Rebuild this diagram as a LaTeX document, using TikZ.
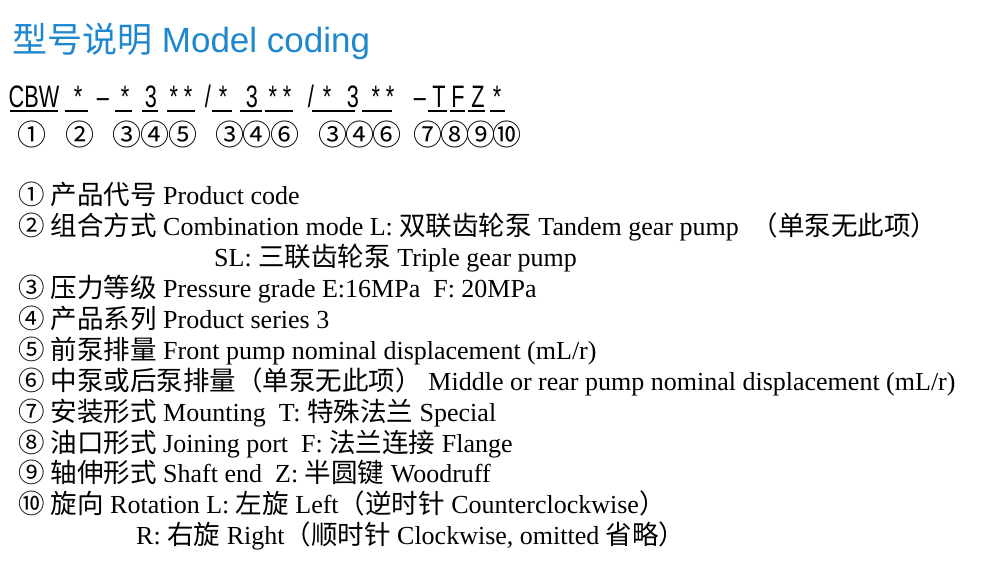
\documentclass[tikz,border=0pt]{standalone}
\usepackage{fontspec}
\setmainfont{Liberation Serif}
\newfontfamily\cjk{Noto Sans CJK SC}[Scale=1.02]
\newfontfamily\cjkc{Noto Sans CJK SC}
\newfontfamily\codefont{Liberation Sans}
\definecolor{titleblue}{RGB}{30,135,205}
\begin{document}
\begin{tikzpicture}[x=1pt,y=-1pt,
  code/.style={anchor=base,inner sep=0,font=\codefont\fontsize{31}{31}\selectfont,xscale=0.7},
  circ/.style={anchor=center,inner sep=0,font=\cjkc\fontsize{29}{29}\selectfont},
  ul/.style={line width=1.2pt},
  row/.style={anchor=base west,inner sep=0,font=\fontsize{26}{26}\selectfont}]
\useasboundingbox (0,0) rectangle (986,584);
\node[anchor=base west,inner sep=0,text=titleblue,font=\codefont\fontsize{35}{35}\selectfont] (title) at (12,52) {{\cjkc 型号说明} Model coding};
% code line
\foreach \t/\x/\a/\b [count=\i] in {CBW/34/10/58, {*}/78/65/88, {*}/125/115/132, 3/151/142/158, {* *}/181/167/195, {*}/223/212/232, 3/252/240/262, {* *}/280/265/293, {*}/327/312/340, 3/353/338/355, {* *}/383/362/392, T/439/428/447, F/458/450/465, Z/478/468/485, {*}/497/490/505}{
  \node[code] (c\i) at (\x,107) {\t};
  \draw[ul] (\a,111) -- (\b,111);
}
\node[code] (d1) at (103,107) {\textendash};
\node[code] (s1) at (208,107) {/};
\node[code] (s2) at (311,107) {/};
\node[code] (d2) at (420,107) {\textendash};
\foreach \t/\x [count=\i] in {①/32,②/80,③/127,④/155,⑤/183,③/230,④/257,⑥/285,③/333,④/360,⑥/387,⑦/428,⑧/455,⑨/481,⑩/507}{
  \node[circ] (n\i) at (\x,134) {\t};
}
% description lines
\node[row] (r1) at (18,204) {{\cjk ① 产品代号} Product code};
\node[row] (r2) at (18,235) {{\cjk ② 组合方式} Combination mode L: {\cjk 双联齿轮泵} Tandem gear pump \ {\cjk （单泵无此项）}};
\node[row] (r2b) at (214,266) {SL: {\cjk 三联齿轮泵} Triple gear pump};
\node[row] (r3) at (18,297) {{\cjk ③ 压力等级} Pressure grade E:16MPa\ \ F: 20MPa};
\node[row] (r4) at (18,328) {{\cjk ④ 产品系列} Product series 3};
\node[row] (r5) at (18,359) {{\cjk ⑤ 前泵排量} Front pump nominal displacement (mL/r)};
\node[row] (r6) at (18,390) {{\cjk ⑥ 中泵或后泵排量（单泵无此项）} Middle or rear pump nominal displacement (mL/r)};
\node[row] (r7) at (18,421) {{\cjk ⑦ 安装形式} Mounting\ \ T: {\cjk 特殊法兰} Special};
\node[row] (r8) at (18,452) {{\cjk ⑧ 油口形式} Joining port\ \ F: {\cjk 法兰连接} Flange};
\node[row] (r9) at (18,482) {{\cjk ⑨ 轴伸形式} Shaft end\ \ Z: {\cjk 半圆键} Woodruff};
\node[row] (r10) at (18,513) {{\cjk ⑩ 旋向} Rotation L: {\cjk 左旋} Left{\cjk （逆时针} Counterclockwise{\cjk ）}};
\node[row] (r10b) at (136,544) {R: {\cjk 右旋} Right{\cjk （顺时针} Clockwise, omitted {\cjk 省略）}};
\end{tikzpicture}
\end{document}
